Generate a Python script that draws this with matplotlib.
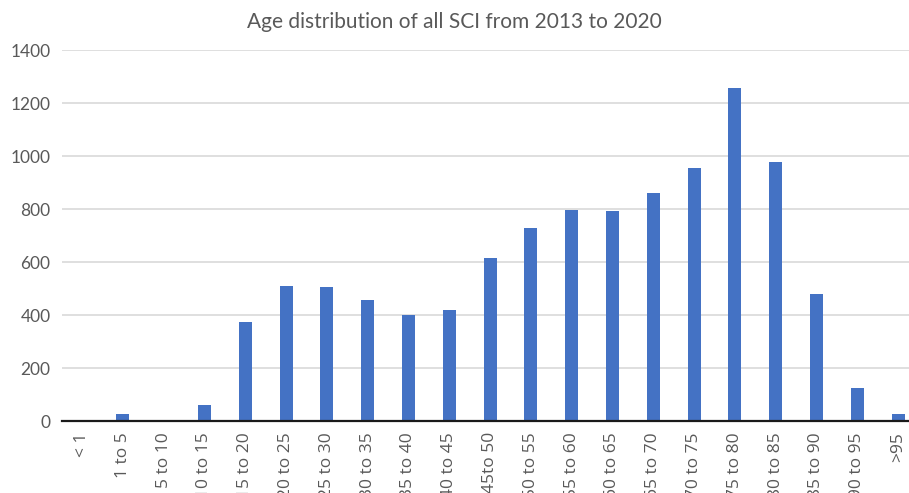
import matplotlib.pyplot as plt
import numpy as np

# 年龄段和人数
age_groups = ['< 1', '1 to 5', '5 to 10', '10 to 15', '15 to 20', '20 to 25',
              '25 to 30', '30 to 35', '35 to 40', '40 to 45', '45to 50',
              '50 to 55', '55 to 60', '60 to 65', '65 to 70', '70 to 75',
              '75 to 80', '80 to 85', '85 to 90', '90 to 95', '>95']
counts = [0, 28, 5, 62, 375, 509, 505, 456, 400, 420, 615,
          728, 796, 792, 860, 955, 1257, 977, 479, 125, 25]
y_ticks = [0, 200, 400, 600, 800, 1000, 1200, 1400]

fig = plt.figure(figsize=(9.09, 4.93), dpi=100)
ax = fig.add_axes([0.0678, 0.146, 0.9426, 0.7525])

x = np.arange(len(age_groups))
ax.bar(x, counts, width=0.32, color='#4472C4', zorder=3)

ax.set_xlim(-0.5, len(age_groups) - 0.5)
ax.set_ylim(0, 1400)
ax.set_yticks(y_ticks)
ax.set_yticklabels([str(v) for v in y_ticks], family='Lato', fontsize=12.5, color='#595959')
ax.set_xticks(x)
ax.set_xticklabels(age_groups, rotation=90, family='Open Sans', fontsize=12.5,
                   color='#595959', ha='center', va='top')
ax.tick_params(axis='both', length=0)
ax.tick_params(axis='x', pad=8)
ax.tick_params(axis='y', pad=8)

ax.grid(axis='y', color='#d9d9d9', linewidth=1.2, zorder=0)
for s in ['top', 'right', 'left']:
    ax.spines[s].set_visible(False)
ax.spines['bottom'].set_color('#1a1a1a')
ax.spines['bottom'].set_linewidth(1.6)
ax.spines['bottom'].set_zorder(4)

fig.text(0.5, 0.955, 'Age distribution of all SCI from 2013 to 2020', ha='center',
         va='center', family='Lato', fontsize=15, color='#595959')

plt.savefig('out.png', dpi=100)
